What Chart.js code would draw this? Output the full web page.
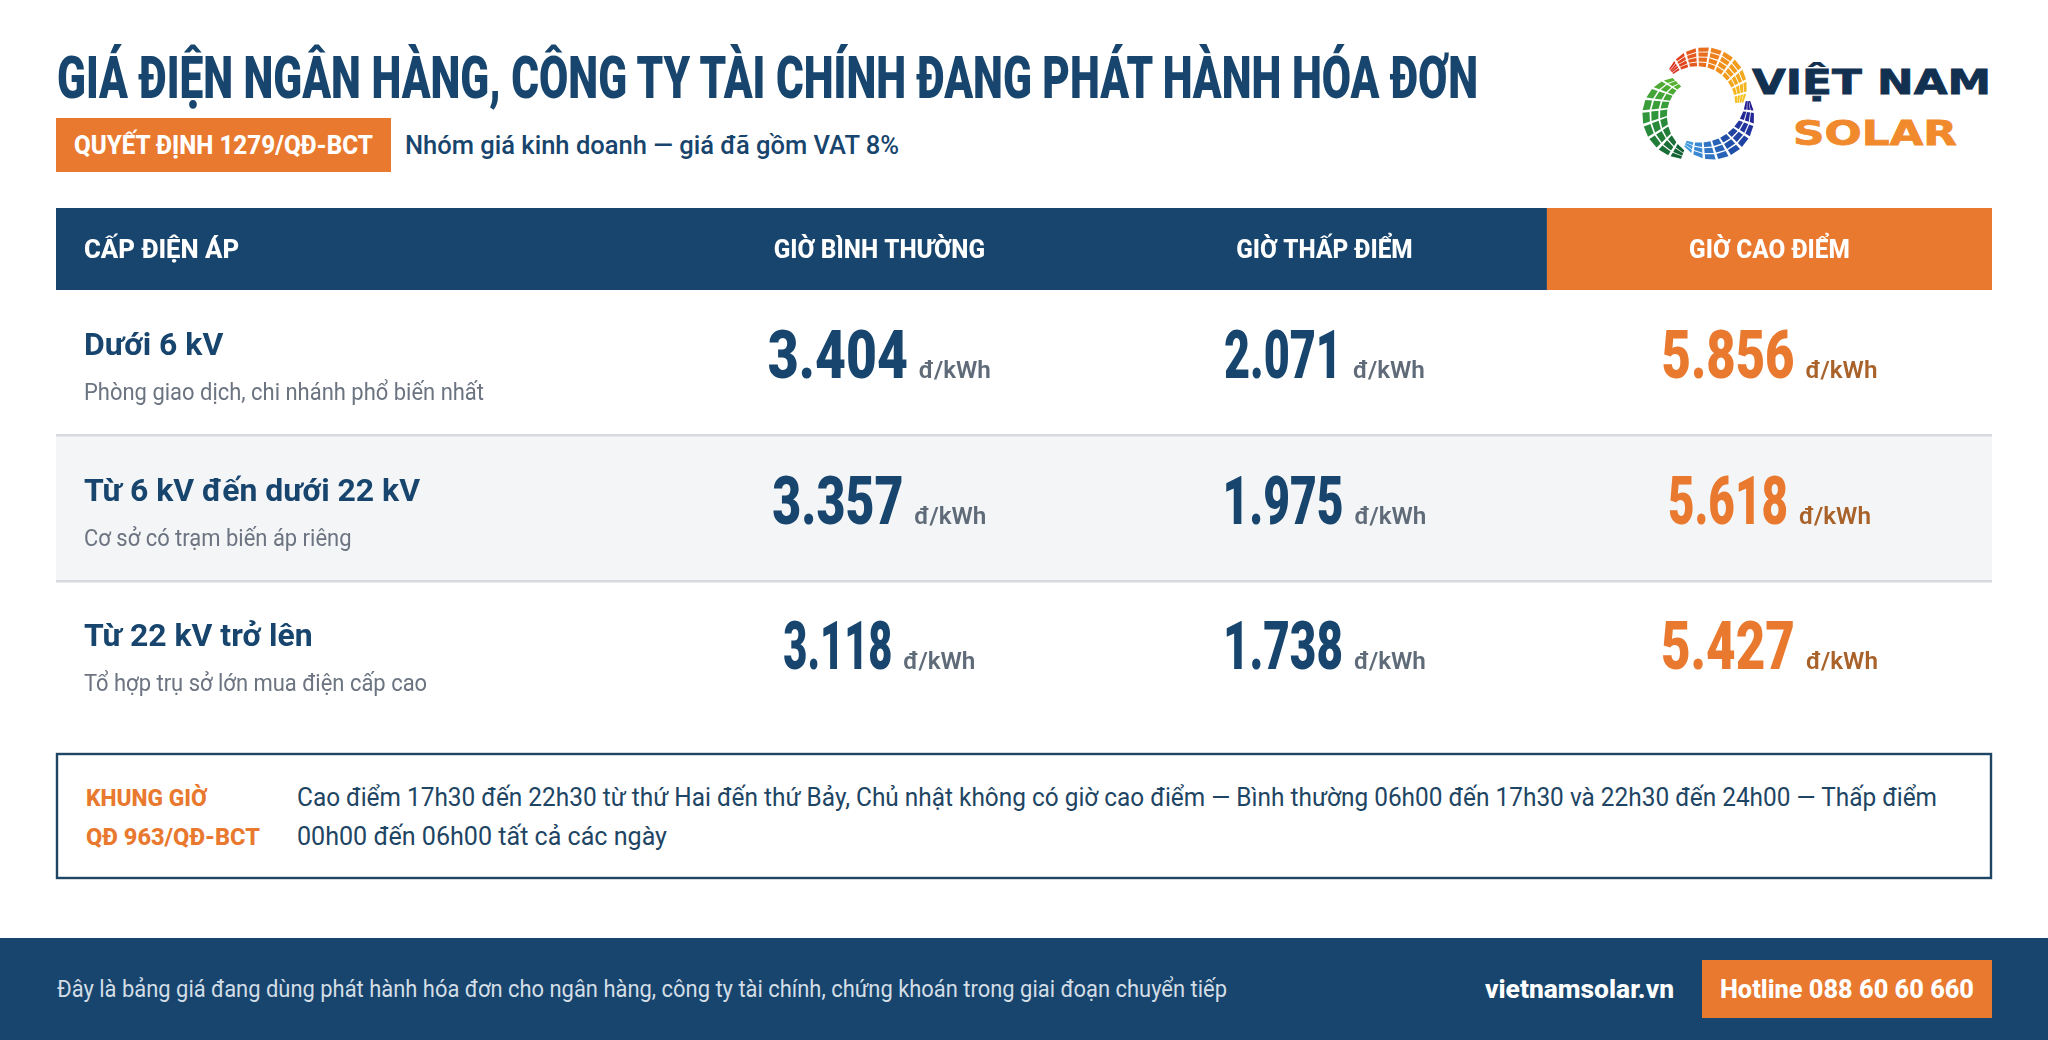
<!DOCTYPE html>
<html lang="vi">
<head>
  <meta charset="UTF-8">
  <title>Giá điện ngân hàng, công ty tài chính</title>
  <script src="https://cdn.jsdelivr.net/npm/chart.js"></script>
  <style>
    html, body { margin: 0; background: #fff; }
    body { width: 2048px; height: 1040px; position: relative; overflow: hidden; font-family: Roboto, sans-serif; }
    svg { position: absolute; left: 0; top: 0; }
    #priceTable { position: absolute; left: 56px; top: 208px; }
    .navy { fill: #17456d; }
    .orange { fill: #e8792f; }
    .white { fill: #fff; }
  </style>
</head>
<body>

<svg id="page" width="2048" height="1040" xmlns="http://www.w3.org/2000/svg">
  <text class="navy" x="57" y="98" font-size="60" font-weight="900" textLength="1421" lengthAdjust="spacingAndGlyphs">GIÁ ĐIỆN NGÂN HÀNG, CÔNG TY TÀI CHÍNH ĐANG PHÁT HÀNH HÓA ĐƠN</text>
  <rect class="orange" x="56" y="118" width="335" height="54"/>
  <text class="white" x="74" y="154" font-size="26" font-weight="800" textLength="299" lengthAdjust="spacingAndGlyphs">QUYẾT ĐỊNH 1279/QĐ-BCT</text>
  <text class="navy" x="405" y="154" font-size="26" font-weight="500" textLength="494" lengthAdjust="spacingAndGlyphs">Nhóm giá kinh doanh — giá đã gồm VAT 8%</text>

  <g id="logo"></g>
  <text x="1752" y="94" fill="#12304f" stroke="#12304f" stroke-width="0.8" font-family="DejaVu Sans" font-size="33" font-weight="700" textLength="239" lengthAdjust="spacingAndGlyphs">VIỆT NAM</text>
  <text x="1793" y="145" fill="#f08a2c" stroke="#f08a2c" stroke-width="0.8" font-family="DejaVu Sans" font-size="33" font-weight="700" textLength="164" lengthAdjust="spacingAndGlyphs">SOLAR</text>

  <rect x="57" y="754" width="1934" height="124" fill="none" stroke="#1e4563" stroke-width="2.4"/>
  <text class="orange" x="86" y="806" font-size="24" font-weight="800" textLength="121" lengthAdjust="spacingAndGlyphs">KHUNG GIỜ</text>
  <text class="orange" x="86" y="845" font-size="24" font-weight="800" textLength="174" lengthAdjust="spacingAndGlyphs">QĐ 963/QĐ-BCT</text>
  <text x="297" y="806" fill="#1e4563" font-size="25" textLength="1640" lengthAdjust="spacingAndGlyphs">Cao điểm 17h30 đến 22h30 từ thứ Hai đến thứ Bảy, Chủ nhật không có giờ cao điểm — Bình thường 06h00 đến 17h30 và 22h30 đến 24h00 — Thấp điểm</text>
  <text x="297" y="845" fill="#1e4563" font-size="25" textLength="370" lengthAdjust="spacingAndGlyphs">00h00 đến 06h00 tất cả các ngày</text>

  <rect class="navy" x="0" y="938" width="2048" height="102"/>
  <text x="57" y="997" fill="#d3dde6" font-size="23" textLength="1170" lengthAdjust="spacingAndGlyphs">Đây là bảng giá đang dùng phát hành hóa đơn cho ngân hàng, công ty tài chính, chứng khoán trong giai đoạn chuyển tiếp</text>
  <text class="white" x="1485" y="998" font-size="26" font-weight="800" textLength="189" lengthAdjust="spacingAndGlyphs">vietnamsolar.vn</text>
  <rect class="orange" x="1702" y="960" width="290" height="58"/>
  <text class="white" x="1720" y="998" font-size="26" font-weight="800" textLength="254" lengthAdjust="spacingAndGlyphs">Hotline 088 60 60 660</text>
</svg>

<canvas id="priceTable" width="1936" height="519"></canvas>

<script>
  const rowLabels = ['Dưới 6 kV', 'Từ 6 kV đến dưới 22 kV', 'Từ 22 kV trở lên'];
  const rowNotes = ['Phòng giao dịch, chi nhánh phổ biến nhất', 'Cơ sở có trạm biến áp riêng', 'Tổ hợp trụ sở lớn mua điện cấp cao'];
  const columnLabels = ['GIỜ BÌNH THƯỜNG', 'GIỜ THẤP ĐIỂM', 'GIỜ CAO ĐIỂM'];
  const firstColumnLabel = 'CẤP ĐIỆN ÁP';
  const normalPrices = [3404, 3357, 3118];
  const offPeakPrices = [2071, 1975, 1738];
  const peakPrices = [5856, 5618, 5427];
  const unitLabel = 'đ/kWh';

  const NAVY = '#17456d';
  const ORANGE = '#e8792f';
  const LABEL_COL = 1.35; // first column width, in units of a price column
  const X_MAX = LABEL_COL + 3;

  // advance of each figure in the original condensed face
  const FIGURE_WIDTH = { '0': 31, '1': 18, '2': 29, '3': 30, '4': 34, '5': 31, '6': 28, '7': 29, '8': 32, '9': 32, '.': 11 };

  function formatPrice(v) {
    return String(v).replace(/\B(?=(\d{3})+$)/g, '.');
  }

  // Barlow is not installed, so Roboto gets squeezed sideways to the same width
  function squeezed(ctx, text, x, y, font, color, sx, align) {
    ctx.font = font;
    ctx.fillStyle = color;
    ctx.textAlign = 'left';
    ctx.textBaseline = 'alphabetic';
    const w = ctx.measureText(text).width * sx;
    const left = align === 'center' ? x - w / 2 : x;
    ctx.save();
    ctx.translate(left, y);
    ctx.scale(sx, 1);
    ctx.fillText(text, 0, 0);
    ctx.restore();
    return w;
  }

  function priceWidth(text) {
    let w = 0;
    for (const c of text) w += FIGURE_WIDTH[c];
    return w;
  }

  const tablePlugin = {
    id: 'tablePlugin',
    beforeDraw(chart) {
      const { ctx, chartArea, scales } = chart;
      const split = scales.x.getPixelForValue(LABEL_COL + 2);
      ctx.fillStyle = NAVY;
      ctx.fillRect(0, 0, split, chartArea.top);
      ctx.fillStyle = ORANGE;
      ctx.fillRect(split, 0, chartArea.right - split, chartArea.top);
    },
    afterDraw(chart) {
      const { ctx, scales } = chart;
      const headY = 50;
      const font = '800 25px Roboto';
      squeezed(ctx, firstColumnLabel, 28, headY, font, '#fff', 1.03);
      columnLabels.forEach((label, i) => {
        squeezed(ctx, label, scales.x.getPixelForValue(LABEL_COL + i + 0.5), headY, font, '#fff', 0.975, 'center');
      });

      rowLabels.forEach((label, i) => {
        const y = scales.y.getPixelForValue(i);
        squeezed(ctx, label, 28, y - 8, '700 31px Roboto', NAVY, 1.03);
        squeezed(ctx, rowNotes[i], 28, y + 37, '400 23px Roboto', '#6b7480', 0.955);
      });

      // price datasets sit after the grey band dataset
      chart.data.datasets.slice(1).forEach((ds, d) => {
        chart.getDatasetMeta(d + 1).data.forEach((pt, i) => {
          const text = formatPrice(ds.data[i].price);
          const numW = priceWidth(text);
          const gap = 11;
          const unitW = 72;
          const left = pt.x - (numW + gap + unitW) / 2;
          const y = pt.y + 15;
          const isPeak = d === 2;

          ctx.font = '900 67px Roboto';
          const sx = numW / ctx.measureText(text).width;
          squeezed(ctx, text, left, y, ctx.font, isPeak ? ORANGE : NAVY, sx);

          ctx.font = '600 24px Roboto';
          const ux = unitW / ctx.measureText(unitLabel).width;
          squeezed(ctx, unitLabel, left + numW + gap, y, ctx.font, isPeak ? '#a8622a' : '#5f6b78', ux);
        });
      });
    }
  };

  function priceDataset(label, prices, column) {
    return {
      type: 'line',
      label: label,
      showLine: false,
      pointRadius: 0,
      data: prices.map((p, i) => ({ x: LABEL_COL + column + 0.5, y: rowLabels[i], price: p }))
    };
  }

  new Chart(document.getElementById('priceTable'), {
    type: 'bar',
    data: {
      labels: rowLabels,
      datasets: [
        {
          label: 'band',
          data: [null, [0, X_MAX], null],
          backgroundColor: '#f4f5f7',
          barPercentage: 1,
          categoryPercentage: 1
        },
        priceDataset(columnLabels[0], normalPrices, 0),
        priceDataset(columnLabels[1], offPeakPrices, 1),
        priceDataset(columnLabels[2], peakPrices, 2)
      ]
    },
    options: {
      indexAxis: 'y',
      responsive: false,
      devicePixelRatio: 1,
      animation: false,
      events: [],
      layout: { padding: { top: 82, left: 0, right: 0, bottom: 0 } },
      plugins: { legend: { display: false }, tooltip: { enabled: false } },
      scales: {
        x: {
          type: 'linear',
          display: false,
          min: 0,
          max: X_MAX
        },
        y: {
          type: 'category',
          ticks: { display: false },
          border: { display: false },
          grid: {
            z: 1,
            offset: true,
            drawTicks: false,
            lineWidth: 2.4,
            color: c => (c.index === 1 || c.index === 2) ? '#d6d9dd' : 'transparent'
          }
        }
      }
    },
    plugins: [tablePlugin]
  });

  // logo mosaic, three curved bands of small tiles
  function mix(stops, t) {
    const p = t * (stops.length - 1);
    const i = Math.min(Math.floor(p), stops.length - 2);
    const f = p - i;
    return 'rgb(' + [0, 1, 2].map(k => Math.round(stops[i][k] + (stops[i + 1][k] - stops[i][k]) * f)).join(',') + ')';
  }
  // passes through a at t=0, b at t=.5, c at t=1
  function curve(r, t) {
    return r[0] * (1 - t) * (1 - 2 * t) + 4 * r[1] * t * (1 - t) + r[2] * t * (2 * t - 1);
  }
  function logoBand(a0, a1, cols, rows, inner, outer, stops) {
    const g = document.getElementById('logo');
    const cx = 1700, cy = 105;
    for (let i = 0; i < cols; i++) {
      for (let j = 0; j < rows; j++) {
        const t0 = (i + 0.1) / cols, t1 = (i + 0.9) / cols;
        const corner = (t, f) => {
          const r = curve(inner, t) + (curve(outer, t) - curve(inner, t)) * f;
          const a = (a0 + (a1 - a0) * t) * Math.PI / 180;
          return (cx + r * Math.cos(a)).toFixed(1) + ',' + (cy + r * Math.sin(a)).toFixed(1);
        };
        const f0 = (j + 0.1) / rows, f1 = (j + 0.9) / rows;
        const poly = document.createElementNS('http://www.w3.org/2000/svg', 'polygon');
        poly.setAttribute('points', [corner(t0, f0), corner(t1, f0), corner(t1, f1), corner(t0, f1)].join(' '));
        poly.setAttribute('fill', mix(stops, (i + 0.5) / cols));
        g.appendChild(poly);
      }
    }
  }
  logoBand(-132, -2, 10, 4, [41, 37, 35], [47, 59, 43], [[217, 40, 30], [239, 138, 29], [245, 198, 30]]);
  logoBand(226, 108, 9, 3, [26, 33, 48], [38, 60, 57], [[92, 181, 49], [47, 150, 60], [15, 91, 51]]);
  logoBand(112, -6, 9, 3, [38, 38, 46], [44, 60, 50], [[69, 163, 229], [31, 79, 168], [36, 20, 140]]);
</script>

</body>
</html>
